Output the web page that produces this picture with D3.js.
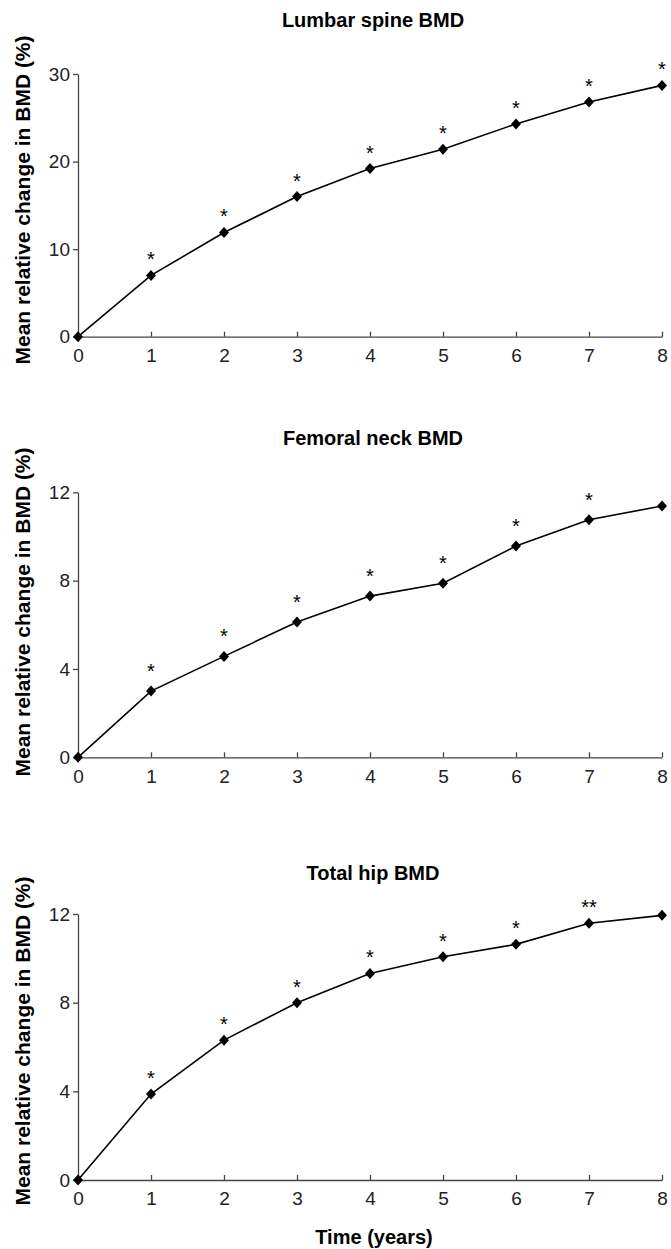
<!DOCTYPE html>
<html>
<head>
<meta charset="utf-8">
<script src="https://cdn.jsdelivr.net/npm/d3@7"></script>
<style>
  body { margin: 0; background: #fff; }
  svg text { font-family: "Liberation Sans", Arial, Helvetica, sans-serif; }
</style>
</head>
<body>
<svg width="671" height="1249"></svg>
<script>
// years on the x axis
var years = [0, 1, 2, 3, 4, 5, 6, 7, 8];

// panel titles
var titles = ["Lumbar spine BMD", "Femoral neck BMD", "Total hip BMD"];

// mean relative change in BMD (%)
var lumbar  = [0, 7.0, 11.9, 16.0, 19.2, 21.4, 24.3, 26.8, 28.7];
var femoral = [0, 3.0, 4.57, 6.13, 7.3, 7.88, 9.57, 10.76, 11.38];
var hip     = [0, 3.88, 6.31, 8.0, 9.32, 10.07, 10.63, 11.58, 11.94];

// significance marks above each point
var lumbarStars  = ["", "*", "*", "*", "*", "*", "*", "*", "*"];
var femoralStars = ["", "*", "*", "*", "*", "*", "*", "*", ""];
var hipStars     = ["", "*", "*", "*", "*", "*", "*", "**", ""];

// y axis ticks per panel
var lumbarTicks = [0, 10, 20, 30];
var femoralTicks = [0, 4, 8, 12];
var hipTicks = [0, 4, 8, 12];

var svg = d3.select("svg");

var panels = [
  {title: titles[0], values: lumbar, stars: lumbarStars, ticks: lumbarTicks, max: 30, top: 74, bottom: 336.7, titleY: 20, labelY: 200, starGap: 20},
  {title: titles[1], values: femoral, stars: femoralStars, ticks: femoralTicks, max: 12, top: 492.3, bottom: 757.3, titleY: 438, labelY: 612, starGap: 24},
  {title: titles[2], values: hip, stars: hipStars, ticks: hipTicks, max: 12, top: 914, bottom: 1180, titleY: 873, labelY: 1041, starGap: 20}
];

var xscale = d3.scaleLinear().domain([0, 8]).range([78, 662]);

// wide diamond marker
var diamond = "M0,-5.5L5,0L0,5.5L-5,0Z";

panels.forEach(function(p, idx) {
  var yscale = d3.scaleLinear().domain([0, p.max]).range([p.bottom, p.top]);
  var g = svg.append("g");

  // title
  g.append("text")
    .attr("x", 373).attr("y", p.titleY)
    .attr("dy", "0.35em")
    .attr("text-anchor", "middle")
    .style("font-size", "20px").style("font-weight", "bold")
    .text(p.title);

  // y axis label
  g.append("text")
    .attr("transform", "translate(23," + p.labelY + ") rotate(-90)")
    .attr("dy", "0.35em")
    .attr("text-anchor", "middle")
    .style("font-size", "21px").style("font-weight", "bold")
    .text("Mean relative change in BMD (%)");

  // y axis
  var yAxis = d3.axisLeft(yscale).tickValues(p.ticks).tickSize(5).tickSizeOuter(0).tickPadding(3);
  var ya = g.append("g").attr("transform", "translate(78,0)").call(yAxis);

  // x axis, ticks pointing up into the plot
  var xAxis = d3.axisBottom(xscale).tickValues(years).tickSize(-5).tickSizeOuter(0).tickPadding(12);
  var xa = g.append("g").attr("transform", "translate(0," + p.bottom + ")").call(xAxis);

  [ya, xa].forEach(function(a) {
    a.select(".domain").attr("stroke", "#444").attr("stroke-width", 1.3);
    a.selectAll(".tick line").attr("stroke", "#444").attr("stroke-width", 1.3);
    a.selectAll(".tick text").style("font-size", "19px").attr("fill", "#222")
      .style("font-family", "'Liberation Sans', Arial, sans-serif");
  });

  // line
  var line = d3.line()
    .x(function(d, i) { return xscale(years[i]); })
    .y(function(d) { return yscale(d); });

  g.append("path")
    .datum(p.values)
    .attr("d", line)
    .attr("fill", "none")
    .attr("stroke", "#000")
    .attr("stroke-width", 1.6);

  // markers
  g.selectAll(".pt").data(p.values).enter().append("path")
    .attr("class", "pt")
    .attr("d", diamond)
    .attr("transform", function(d, i) { return "translate(" + xscale(years[i]) + "," + yscale(d) + ")"; })
    .attr("fill", "#000");

  // asterisks
  g.selectAll(".star").data(p.values).enter().append("text")
    .attr("class", "star")
    .attr("x", function(d, i) { return xscale(years[i]); })
    .attr("y", function(d) { return yscale(d) - p.starGap + 11; })
    .attr("text-anchor", "middle")
    .style("font-size", "20px")
    .text(function(d, i) { return p.stars[i]; });
});

// x axis title
svg.append("text")
  .attr("x", 374).attr("y", 1237)
  .attr("dy", "0.35em")
  .attr("text-anchor", "middle")
  .style("font-size", "20px").style("font-weight", "bold")
  .text("Time (years)");
</script>
</body>
</html>
